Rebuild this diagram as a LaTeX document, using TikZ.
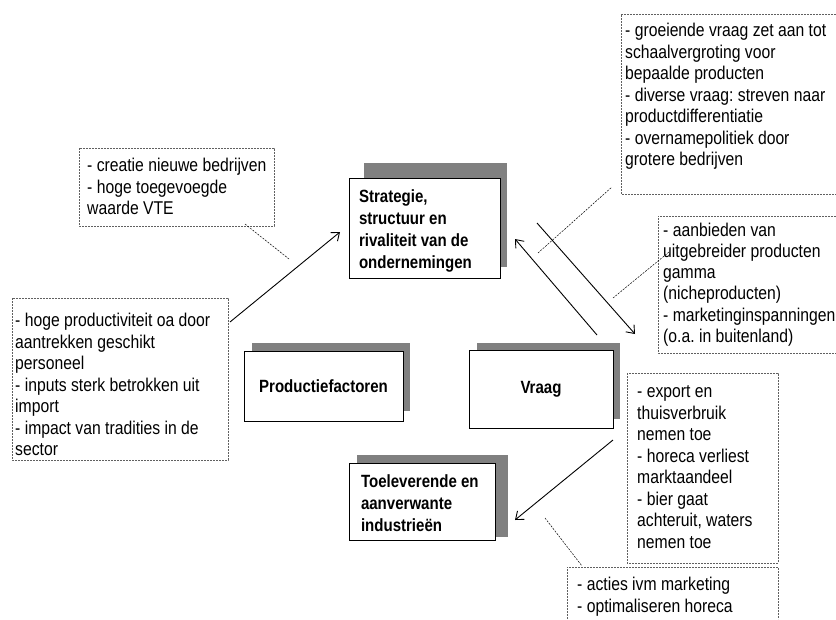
\documentclass[tikz,border=0pt]{standalone}
\usepackage{fontspec}
\setmainfont{Liberation Sans}
\newfontfamily\narrowfont{Liberation Sans}[FakeStretch=0.85]
\usetikzlibrary{arrows.meta}
\definecolor{shade}{HTML}{808080}
\definecolor{dashgray}{HTML}{606060}
\frenchspacing
\begin{document}
\begin{tikzpicture}[x=1pt,y=-1pt,
 lbl/.style={draw=black,line width=0.9pt,fill=white,inner xsep=10pt,inner ysep=0pt,font=\narrowfont\bfseries\fontsize{17.7}{22}\selectfont,align=flush left},
 shadowbox/.style={fill=shade},
 dtxt/.style={inner sep=0pt,anchor=base west,align=flush left,text width=230pt,font=\narrowfont\fontsize{18.5}{21.5}\selectfont},
 dframe/.style={draw=dashgray,line width=0.7pt,dash pattern=on 2pt off 1pt},
 conn/.style={line width=0.9pt,-{Straight Barb[length=7pt,width=11pt]}},
 dotc/.style={line width=0.5pt,dash pattern=on 2pt off 1.2pt}
]
\useasboundingbox[fill=white] (0,0) rectangle (836,619);

% shadows
\fill[shadowbox] (364,163) rectangle (507,267);
\fill[shadowbox] (252,343) rectangle (410,411);
\fill[shadowbox] (477,343) rectangle (620,419);
\fill[shadowbox] (357,455) rectangle (508,537);

% main boxes
\node[lbl,minimum width=151pt,minimum height=100pt,text width=131pt] (strat) at (424.5,228) {\rule{0pt}{19pt}Strategie,\\structuur en\\rivaliteit van de\\ondernemingen};
\node[lbl,minimum width=159pt,minimum height=70pt,text width=139pt,align=center] (prod) at (323.5,386) {Productiefactoren};
\node[lbl,minimum width=144pt,minimum height=78pt,text width=124pt,align=center] (vraag) at (541,389) {Vraag};
\node[lbl,minimum width=146pt,minimum height=77pt,text width=122pt,inner xsep=12pt] (toel) at (422,501.5) {\rule{0pt}{16pt}Toeleverende en\\aanverwante\\industrieën};

% dashed frames
\draw[dframe] (836,14) -- (621,14) -- (621,194) -- (836,194);
\draw[dframe] (836,216) -- (658,216) -- (658,353) -- (836,353);
\draw[dframe] (79,148) rectangle (274,226);
\draw[dframe] (12,298) rectangle (228,460);
\draw[dframe] (627,373) rectangle (778,563);
\draw[dframe] (567,619) -- (567,567) -- (778,567) -- (778,619);

% texts
\node[dtxt] (tA) at (625,36.5) {- groeiende vraag zet aan tot\\schaalvergroting voor\\bepaalde producten\\- diverse vraag: streven naar\\productdifferentiatie\\- overnamepolitiek door\\grotere bedrijven};
\node[dtxt,font=\narrowfont\fontsize{18.5}{21.3}\selectfont] (tB) at (663,236) {- aanbieden van\\uitgebreider producten\\gamma\\(nicheproducten)\\- marketinginspanningen\\(o.a. in buitenland)};
\node[dtxt] (tC) at (87,171.7) {- creatie nieuwe bedrijven\\- hoge toegevoegde\\waarde VTE};
\node[dtxt] (tD) at (15,326.7) {- hoge productiviteit oa door\\aantrekken geschikt\\personeel\\- inputs sterk betrokken uit\\import\\- impact van tradities in de\\sector};
\node[dtxt] (tE) at (637,397.7) {- export en\\thuisverbruik\\nemen toe\\- horeca verliest\\marktaandeel\\- bier gaat\\achteruit, waters\\nemen toe};
\node[dtxt] (tF) at (577,590.7) {- acties ivm marketing\\- optimaliseren horeca};

% connector end points
\coordinate (a1s) at (230,322);
\coordinate (a1e) at (340,232);
\coordinate (a2s) at (597,335);
\coordinate (a2e) at (515,239);
\coordinate (a3s) at (537,223);
\coordinate (a3e) at (635,334);
\coordinate (a4s) at (613,440);
\coordinate (a4e) at (515,520);
\coordinate (dAs) at (538,253);
\coordinate (dAe) at (612,187);
\coordinate (dBs) at (613,298);
\coordinate (dBe) at (669,252);
\coordinate (dCs) at (245,224);
\coordinate (dCe) at (289,259);
\coordinate (dFs) at (545,518);
\coordinate (dFe) at (582,566);

\draw[conn] (a1s) -- (a1e);
\draw[conn] (a2s) -- (a2e);
\draw[conn] (a3s) -- (a3e);
\draw[conn] (a4s) -- (a4e);
\draw[dotc] (dAs) -- (dAe);
\draw[dotc] (dBs) -- (dBe);
\draw[dotc] (dCs) -- (dCe);
\draw[dotc] (dFs) -- (dFe);
\end{tikzpicture}
\end{document}
